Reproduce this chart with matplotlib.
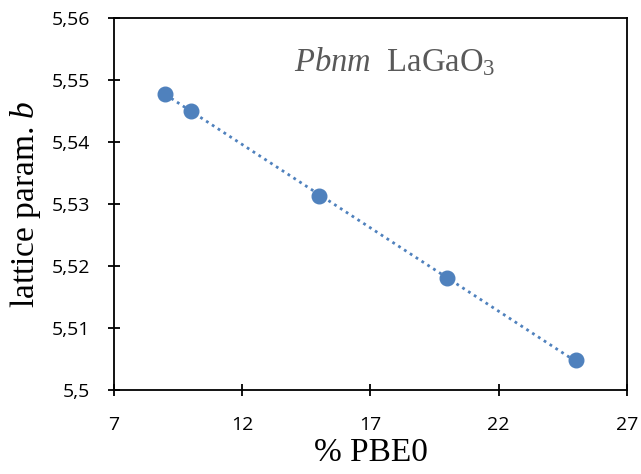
import matplotlib
matplotlib.use("Agg")
import matplotlib.pyplot as plt
import numpy as np
from matplotlib.ticker import FuncFormatter

plt.rcParams['mathtext.fontset'] = 'custom'
plt.rcParams['mathtext.rm'] = 'Liberation Serif'
plt.rcParams['mathtext.it'] = 'Liberation Serif:italic'

pbe0 = [9, 10, 15, 20, 25]
lattice_b = [5.5478, 5.5450, 5.5313, 5.5180, 5.5048]
xticks = [7, 12, 17, 22, 27]
yticks = [5.50, 5.51, 5.52, 5.53, 5.54, 5.55, 5.56]

color = "#4F81BD"

fig = plt.figure(figsize=(6.41, 4.74), dpi=100)
ax = fig.add_axes([0.178, 0.177, 0.800, 0.785])

coef = np.polyfit(pbe0, lattice_b, 1)
xs = np.array([min(pbe0), max(pbe0)])
ax.plot(xs, np.polyval(coef, xs), linestyle=(0, (1, 1.5)), color=color, lw=2.0, zorder=2)
ax.plot(pbe0, lattice_b, "o", color=color, markersize=10.5, zorder=3)

ax.set_xlim(7, 27)
ax.set_ylim(5.5, 5.56)
ax.set_xticks(xticks)
ax.set_yticks(yticks)

def fmt_y(v, pos):
    s = f"{v:.2f}".rstrip("0").rstrip(".")
    return s.replace(".", ",")
ax.yaxis.set_major_formatter(FuncFormatter(fmt_y))
ax.xaxis.set_major_formatter(FuncFormatter(lambda v, p: f"{int(round(v))}"))

for sp in ax.spines.values():
    sp.set_linewidth(1.3)
    sp.set_color("black")
ax.tick_params(direction="inout", length=9, width=1.3, labelsize=14)
ax.tick_params(axis="x", pad=14)
ax.tick_params(axis="y", pad=13)
for lab in ax.get_xticklabels() + ax.get_yticklabels():
    lab.set_fontfamily("Open Sans")

ax.set_xlabel("% PBE0", fontsize=24, family="Liberation Serif", labelpad=3)
ax.set_ylabel("lattice param. $\\mathit{b}$", fontsize=24, family="Liberation Serif", labelpad=6)

ax.text(0.548, 0.882, "$\\mathit{Pbnm}$  LaGaO$_3$", transform=ax.transAxes,
        fontsize=23.5, family="Liberation Serif", color="#595959", ha="center", va="center")

fig.savefig("out.png", dpi=100)
